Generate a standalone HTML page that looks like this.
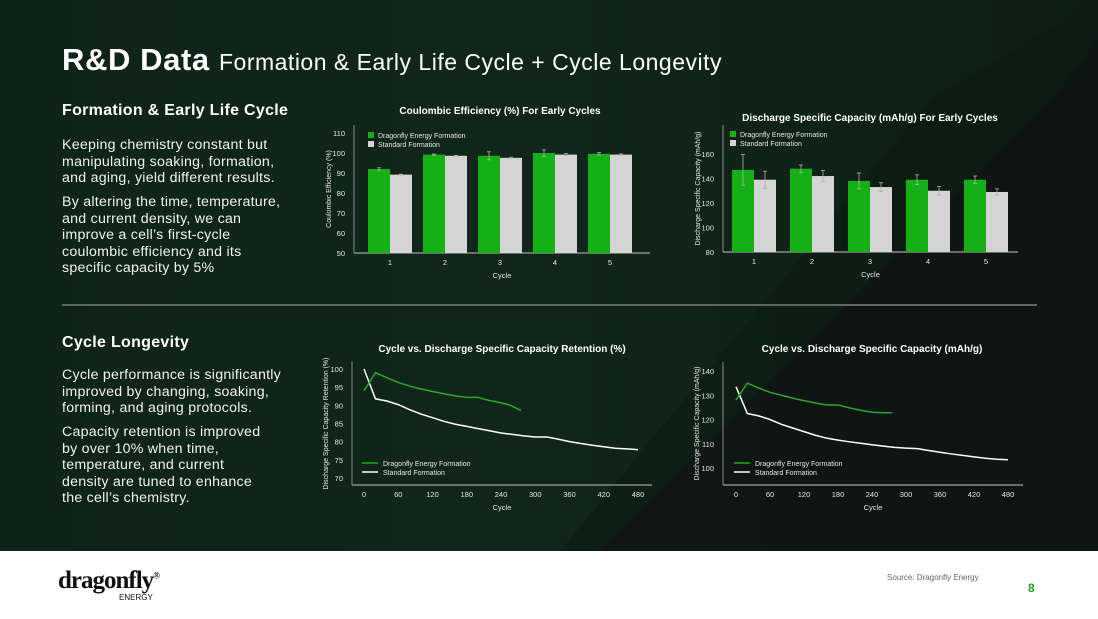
<!DOCTYPE html>
<html><head><meta charset="utf-8">
<style>
*{margin:0;padding:0;box-sizing:border-box}
body{width:1098px;height:619px;overflow:hidden;background:#fff;font-family:"Liberation Sans",sans-serif;position:relative}
#dark{position:absolute;left:0;top:0;width:1098px;height:551px;background:linear-gradient(90deg,#0f2418 0%,#11261a 50%,#0d1d14 100%);overflow:hidden}
.t{position:absolute;color:#fff;white-space:nowrap}
p.b{position:absolute;color:#f2f2f2;font-size:14.2px;line-height:16.5px;left:62px;white-space:nowrap;letter-spacing:0.25px}
svg{position:absolute;left:0;top:0}
</style></head><body>
<div id="dark">
<svg width="1098" height="551">
<polygon points="930,100 1098,0 1098,551 560,551" fill="#0c1a12" opacity="0.6"/>
<polygon points="1060,90 1098,40 1098,551 600,551" fill="#101413" opacity="0.8"/>
</svg>
</div>
<div class="t" style="left:62px;top:42px;font-size:31px;font-weight:bold;letter-spacing:0.6px">R&amp;D Data <span style="font-weight:normal;font-size:23px;letter-spacing:0.5px">Formation &amp; Early Life Cycle + Cycle Longevity</span></div>
<div class="t" style="left:62px;top:102px;font-size:16px;font-weight:bold;letter-spacing:0.3px">Formation &amp; Early Life Cycle</div>
<p class="b" style="top:137px">Keeping chemistry constant but<br>manipulating soaking, formation,<br>and aging, yield different results.</p>
<p class="b" style="top:194px">By altering the time, temperature,<br>and current density, we can<br>improve a cell’s first-cycle<br>coulombic efficiency and its<br>specific capacity by 5%</p>
<div style="position:absolute;left:62px;top:304px;width:975px;height:2px;background:#5d6660"></div>
<div class="t" style="left:62px;top:334px;font-size:16px;font-weight:bold;letter-spacing:0.3px">Cycle Longevity</div>
<p class="b" style="top:367px">Cycle performance is significantly<br>improved by changing, soaking,<br>forming, and aging protocols.</p>
<p class="b" style="top:424px">Capacity retention is improved<br>by over 10% when time,<br>temperature, and current<br>density are tuned to enhance<br>the cell’s chemistry.</p>

<svg id="charts" width="1098" height="551"></svg>

<div class="t" style="left:58px;top:567px;color:#111;font-size:25px;font-weight:bold;font-family:'Liberation Serif',serif;letter-spacing:-1px">dragonfly<sup style="font-size:9px">®</sup></div>
<div class="t" style="left:119px;top:593px;color:#111;font-size:8px">ENERGY</div>
<div class="t" style="left:887px;top:573px;color:#666;font-size:8px">Source: Dragonfly Energy</div>
<div class="t" style="left:1028px;top:581px;color:#1fa31f;font-size:12px;font-weight:bold">8</div>

<script>
const NS='http://www.w3.org/2000/svg';
const svg=document.getElementById('charts');
function mk(tag,attrs,parent,txt){const e=document.createElementNS(NS,tag);for(const k in attrs)e.setAttribute(k,attrs[k]);if(txt!==undefined)e.textContent=txt;(parent||svg).appendChild(e);return e;}

// Chart 1 data: Coulombic efficiency
const ceCycles=['1','2','3','4','5'];
const ceGreen=[92,99.2,98.6,100,99.6];
const ceGreenErr=[0.6,0.3,2,1.6,0.6];
const ceGrey=[89.2,98.6,97.6,99.2,99.2];
const ceGreyErr=[0.2,0.2,0.3,0.5,0.3];
const ceTicks=[50,60,70,80,90,100,110];
// Chart 2 data: discharge capacity early cycles
const dcCycles=['1','2','3','4','5'];
const dcGreen=[147,148,138,139,139];
const dcGreenErr=[12.5,3,6.5,4,3];
const dcGrey=[139,142,133,130,129];
const dcGreyErr=[7,4.5,3.5,3.5,2.5];
const dcTicks=[80,100,120,140,160];
// Chart 3 data: retention
const retGreenX=[0,20,40,60,80,100,120,140,160,180,200,220,240,255,275];
const retGreenY=[94,99,97.6,96.3,95.3,94.5,93.8,93.2,92.6,92.2,92.2,91.3,90.7,90.1,88.6];
const retWhiteX=[0,20,40,60,80,100,120,140,160,180,200,220,240,260,280,300,320,340,360,380,400,420,440,460,480];
const retWhiteY=[100,91.8,91.2,90.2,88.8,87.6,86.6,85.6,84.8,84.2,83.6,83,82.4,82,81.6,81.3,81.3,80.7,80,79.5,79,78.6,78.2,78,77.8];
const retYTicks=[70,75,80,85,90,95,100];
const cycXTicks=[0,60,120,180,240,300,360,420,480];
// Chart 4 data: capacity
const capGreenX=[0,20,40,60,80,100,120,140,160,180,200,220,240,260,275];
const capGreenY=[128,135,133,131.2,130,128.8,127.8,126.8,126,126,124.8,123.8,123,122.8,122.8];
const capWhiteX=[0,20,40,60,80,100,120,140,160,180,200,220,240,260,280,300,320,340,360,380,400,420,440,460,480];
const capWhiteY=[133.5,122.5,121.5,120,118,116.5,115,113.5,112.3,111.5,110.8,110.2,109.6,109,108.5,108.2,108,107.2,106.5,105.8,105.2,104.6,104,103.6,103.4];
const capYTicks=[100,110,120,130,140];

const GREEN='#15b015', GREY='#d4d4d4', TXT='#e6e6e6';

function axesFrame(c){
  const g=mk('g',{});
  
  
  const t=mk('text',{x:c.titleX,y:c.titleY,fill:'#fff','font-size':10,'text-anchor':'middle','font-weight':'bold'},g,c.title);
  
  
  mk('line',{x1:c.x0,y1:c.yTop,x2:c.x0,y2:c.base,stroke:'#8a8a8a','stroke-width':1},g);
  mk('line',{x1:c.x0,y1:c.base,x2:c.x1,y2:c.base,stroke:'#8a8a8a','stroke-width':1.5},g);
  c.yTicks.forEach(v=>{const l=mk('text',{x:c.x0-9,y:c.ys(v)+3,fill:TXT,'font-size':7.5,'text-anchor':'end'},g,String(v));
    
    });
  const yt=mk('text',{x:0,y:0,fill:TXT,'font-size':7,'text-anchor':'middle',transform:`translate(${c.ytX},${(c.yTop+c.base)/2}) rotate(-90)`},g,c.yTitle);
  
  
  const xt=mk('text',{x:(c.x0+c.x1)/2,y:c.base+25,fill:TXT,'font-size':7.5,'text-anchor':'middle'},g,'Cycle');
  
  
  return g;
}
function legend(g,x,y,bar){
  [['Dragonfly Energy Formation',GREEN],['Standard Formation',bar?GREY:'#fff']].forEach((d,i)=>{
    const yy=y+i*9;
    if(bar) mk('rect',{x:x,y:yy-5,width:6,height:6,fill:d[1]},g);
    else mk('line',{x1:x-6,y1:yy-2,x2:x+10,y2:yy-2,stroke:d[1],'stroke-width':1.5},g);
    const tx=mk('text',{x:x+(bar?10:15),y:yy+1,fill:TXT,'font-size':7},g,d[0]);
    
    
  });
}
function barChart(c,cats,gv,ge,wv,we){
  const g=axesFrame(c);
  cats.forEach((cat,i)=>{
    const cx=c.cx0+i*c.step;
    [[gv[i],ge[i],GREEN,cx-c.bw],[wv[i],we[i],GREY,cx]].forEach((d,j)=>{
      const y=c.ys(d[0]);
      const r=mk('rect',{x:d[3],y:y,width:c.bw,height:c.base-y,fill:d[2]},g);
      
      
      const mx=d[3]+c.bw/2, y1=c.ys(d[0]+d[1]), y2=c.ys(d[0]-d[1]);
      mk('line',{x1:mx,y1:y1,x2:mx,y2:y2,stroke:'#b0b0b0','stroke-width':0.8},g);
      mk('line',{x1:mx-2,y1:y1,x2:mx+2,y2:y1,stroke:'#b0b0b0','stroke-width':0.8},g);
      mk('line',{x1:mx-2,y1:y2,x2:mx+2,y2:y2,stroke:'#b0b0b0','stroke-width':0.8},g);
    });
    const l=mk('text',{x:cx,y:c.base+12,fill:TXT,'font-size':7.5,'text-anchor':'middle'},g,cat);
    
    
  });
  legend(g,c.legX,c.legY,true);
}
function lineChart(c,gx,gy,wx,wy){
  const g=axesFrame(c);
  cycXTicks.forEach(v=>{const l=mk('text',{x:c.xs(v),y:c.base+12,fill:TXT,'font-size':7.5,'text-anchor':'middle'},g,String(v));
    
    });
  const w=mk('polyline',{points:wx.map((x,i)=>c.xs(x)+','+c.ys(wy[i])).join(' '),fill:'none',stroke:'#fff','stroke-width':1.5},g);
  
  
  const gl=mk('polyline',{points:gx.map((x,i)=>c.xs(x)+','+c.ys(gy[i])).join(' '),fill:'none',stroke:'#2aa52a','stroke-width':1.5},g);
  
  
  legend(g,c.legX,c.legY,false);
}
function lin(d0,d1,p0,p1){return v=>p0+(v-d0)*(p1-p0)/(d1-d0);}

barChart({name:'coulombic-efficiency-chart',title:'Coulombic Efficiency (%) For Early Cycles',titleX:500,titleY:114,
  x0:354,x1:650,yTop:125,base:253,ys:lin(50,110,253,133),yTicks:ceTicks,yTitle:'Coulombic Efficiency (%)',ytX:331,
  cx0:390,step:55,bw:22,legX:368,legY:137},ceCycles,ceGreen,ceGreenErr,ceGrey,ceGreyErr);
barChart({name:'discharge-capacity-early-chart',title:'Discharge Specific Capacity (mAh/g) For Early Cycles',titleX:870,titleY:121,
  x0:723,x1:1018,yTop:125,base:252,ys:lin(80,160,252,154),yTicks:dcTicks,yTitle:'Discharge Specific Capacity (mAh/g)',ytX:700,
  cx0:754,step:58,bw:22,legX:730,legY:136},dcCycles,dcGreen,dcGreenErr,dcGrey,dcGreyErr);
lineChart({name:'retention-chart',title:'Cycle vs. Discharge Specific Capacity Retention (%)',titleX:502,titleY:352,
  x0:352,x1:652,yTop:362,base:485,ys:lin(70,100,478,369),xs:lin(0,480,364,638),yTicks:retYTicks,yTitle:'Discharge Specific Capacity Retention (%)',ytX:328,
  legX:368,legY:465},retGreenX,retGreenY,retWhiteX,retWhiteY);
lineChart({name:'capacity-longevity-chart',title:'Cycle vs. Discharge Specific Capacity (mAh/g)',titleX:872,titleY:352,
  x0:723,x1:1023,yTop:362,base:485,ys:lin(100,140,468,371),xs:lin(0,480,736,1008),yTicks:capYTicks,yTitle:'Discharge Specific Capacity (mAh/g)',ytX:699,
  legX:740,legY:465},capGreenX,capGreenY,capWhiteX,capWhiteY);
</script>
</body></html>
